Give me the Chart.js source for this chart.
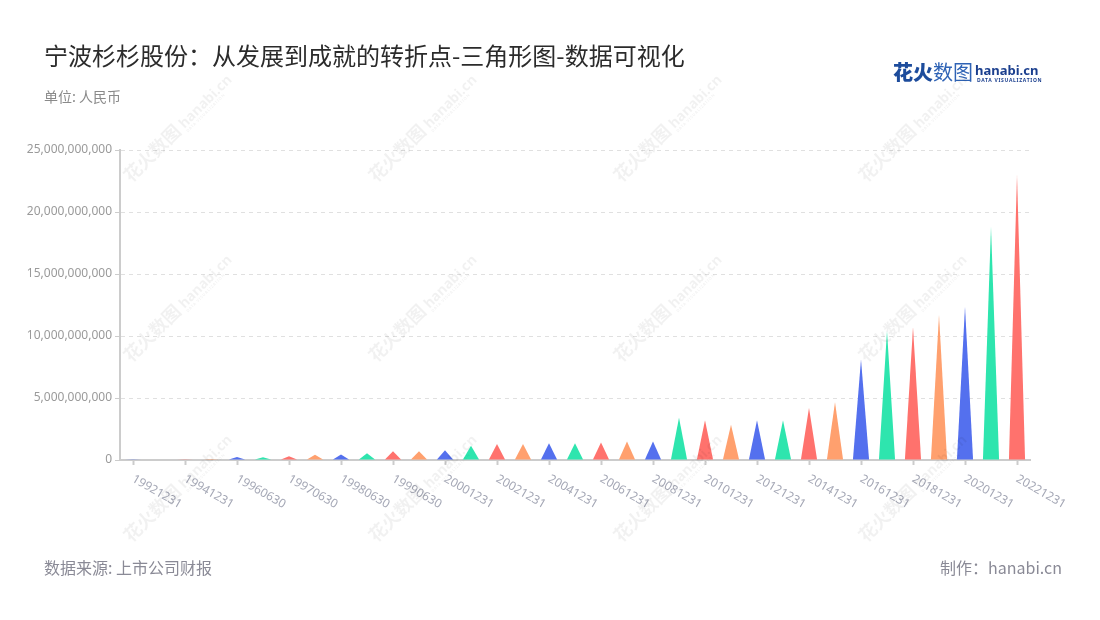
<!DOCTYPE html>
<html>
<head>
<meta charset="utf-8">
<script src="https://cdn.jsdelivr.net/npm/chart.js@4.4.1/dist/chart.umd.min.js"></script>
<style>
  body { margin: 0; background: #fff; }
  #wrap { position: relative; width: 1100px; height: 620px; overflow: hidden; background: #fff;
          font-family: "Noto Sans CJK SC", "Noto Sans", sans-serif; }
  #chart { position: absolute; left: 0; top: 0; }
  .txt { position: absolute; white-space: nowrap; line-height: 1; }
  .wm { position: absolute; white-space: nowrap; pointer-events: none; color: rgba(0,0,0,0.055);
        transform: translate(-50%, -50%) rotate(-45deg); font-weight: 700; line-height: 1; }
  .wm .a { font-size: 18px; }
  .wm .b { display: inline-block; vertical-align: middle; margin-left: 4px; font-family: "Noto Sans", sans-serif; }
  .wm .b span { display: block; }
</style>
</head>
<body>
<div id="wrap">
  <canvas id="chart" width="1100" height="620"></canvas>
  <div class="txt" style="left:44px; top:43px; font-size:24px; color:#2b2b2b;">宁波杉杉股份：从发展到成就的转折点-三角形图-数据可视化</div>
  <div class="txt" style="left:44px; top:89px; font-size:14px; color:#8a8a8a;">单位: 人民币</div>
  <div class="txt" style="left:44px; top:559px; font-size:16px; color:#8a8a96;">数据来源: 上市公司财报</div>
  <div class="txt" style="right:38px; top:559px; font-size:16px; color:#8a8a96;">制作：hanabi.cn</div>
  <div class="txt" style="left:893px; top:62px; font-size:20px;">
    <span style="font-weight:900; color:#1d4c9c;">花火</span><span style="font-weight:400; color:#2f63b5;">数图</span>
  </div>
  <div class="txt" style="left:975px; top:64px; font-size:13px; font-weight:700; color:#1b3f8e; font-family:'Noto Sans',sans-serif;">hanabi.cn</div>
  <div class="txt" style="left:977px; top:78px; font-size:5px; font-weight:700; letter-spacing:0.7px; color:#1b3f8e; font-family:'Noto Sans',sans-serif;">DATA VISUALIZATION</div>
</div>
<script>
// 营业收入（元），按报告期
const categories = [
  '19921231', '19931231', '19941231', '19951231', '19960630', '19961231', '19970630',
  '19971231', '19980630', '19981231', '19990630', '19991231', '20001231', '20011231',
  '20021231', '20031231', '20041231', '20051231', '20061231', '20071231', '20081231',
  '20091231', '20101231', '20111231', '20121231', '20131231', '20141231', '20151231',
  '20161231', '20171231', '20181231', '20191231', '20201231', '20211231', '20221231'
];
const revenue = [
  30000000, 40000000, 60000000, 90000000, 250000000, 220000000, 300000000,
  420000000, 450000000, 550000000, 700000000, 700000000, 780000000, 1150000000,
  1300000000, 1300000000, 1350000000, 1350000000, 1420000000, 1500000000, 1500000000,
  3400000000, 3200000000, 2850000000, 3200000000, 3200000000, 4200000000, 4650000000,
  8100000000, 10450000000, 10700000000, 11700000000, 12350000000, 18800000000, 23000000000
];
const yTicks = [0, 5000000000, 10000000000, 15000000000, 20000000000, 25000000000];
const palette = ['#5470EE', '#2EE5AE', '#FF726D', '#FFA06E'];

// watermark tiles
const wrap = document.getElementById('wrap');
[128, 308, 488].forEach(cy => {
  [178, 423, 668, 913].forEach(cx => {
    const d = document.createElement('div');
    d.className = 'wm';
    d.style.left = cx + 'px';
    d.style.top = cy + 'px';
    d.innerHTML = '<span class="a">花火数图</span><span class="b"><span style="font-size:14px">hanabi.cn</span><span style="font-size:4px;letter-spacing:0.6px">DATA VISUALIZATION</span></span>';
    wrap.appendChild(d);
  });
});

// draw bars as triangles
const trianglePlugin = {
  id: 'triangles',
  beforeDatasetsDraw(chart) {
    const ctx = chart.ctx;
    const meta = chart.getDatasetMeta(0);
    ctx.save();
    meta.data.forEach((bar, i) => {
      const p = bar.getProps(['x', 'y', 'base', 'width'], true);
      ctx.beginPath();
      ctx.moveTo(p.x - p.width / 2, p.base);
      ctx.lineTo(p.x, p.y);
      ctx.lineTo(p.x + p.width / 2, p.base);
      ctx.closePath();
      ctx.fillStyle = palette[i % palette.length];
      ctx.fill();
    });
    ctx.restore();
    return false;
  }
};

// rotated x labels, every other category
const xLabelPlugin = {
  id: 'xLabels',
  afterDraw(chart) {
    const ctx = chart.ctx;
    const xs = chart.scales.x;
    const y0 = chart.chartArea.bottom + 18;
    ctx.save();
    ctx.font = '12px "Noto Sans", "Noto Sans CJK SC", sans-serif';
    ctx.fillStyle = '#a4a7b5';
    ctx.textAlign = 'left';
    ctx.textBaseline = 'middle';
    categories.forEach((c, i) => {
      if (i % 2 !== 0) return;
      const x = xs.getPixelForTick(i);
      ctx.save();
      ctx.translate(x, y0);
      ctx.rotate(Math.PI / 6);
      ctx.fillText(c, 0, 0);
      ctx.restore();
    });
    ctx.restore();
  }
};

Chart.defaults.font.family = '"Noto Sans", "Noto Sans CJK SC", sans-serif';

const chart = new Chart(document.getElementById('chart').getContext('2d'), {
  type: 'bar',
  data: {
    labels: categories,
    datasets: [{
      label: '营业收入',
      data: revenue,
      backgroundColor: categories.map((c, i) => palette[i % palette.length]),
      categoryPercentage: 1,
      barPercentage: 0.62
    }]
  },
  options: {
    responsive: false,
    animation: false,
    events: [],
    layout: { padding: { left: 0, top: 150, right: 70, bottom: 0 } },
    plugins: {
      legend: { display: false },
      tooltip: { enabled: false }
    },
    scales: {
      x: {
        offset: true,
        ticks: { display: false },
        grid: {
          offset: false,
          drawOnChartArea: false,
          drawTicks: true,
          tickLength: 5,
          tickWidth: 2,
          tickColor: ctx => (ctx.index % 2 === 0 ? '#cccccc' : 'rgba(0,0,0,0)')
        },
        border: { color: '#cccccc', width: 2 },
        afterFit(scale) { scale.height = 160; }
      },
      y: {
        min: 0,
        max: 25000000000,
        afterBuildTicks(scale) { scale.ticks = yTicks.map(v => ({ value: v })); },
        ticks: {
          color: '#9a9a9a',
          font: { size: 12 },
          padding: 3,
          callback: v => Number(v).toLocaleString('en-US')
        },
        grid: {
          color: '#e0e0e0',
          lineWidth: 1,
          drawTicks: true,
          tickLength: 5,
          tickColor: '#cccccc',
          tickWidth: 1
        },
        border: { color: '#cccccc', width: 2, dash: [4, 4] },
        afterFit(scale) { scale.width = 120; }
      }
    }
  },
  plugins: [trianglePlugin, xLabelPlugin]
});
</script>
</body>
</html>
